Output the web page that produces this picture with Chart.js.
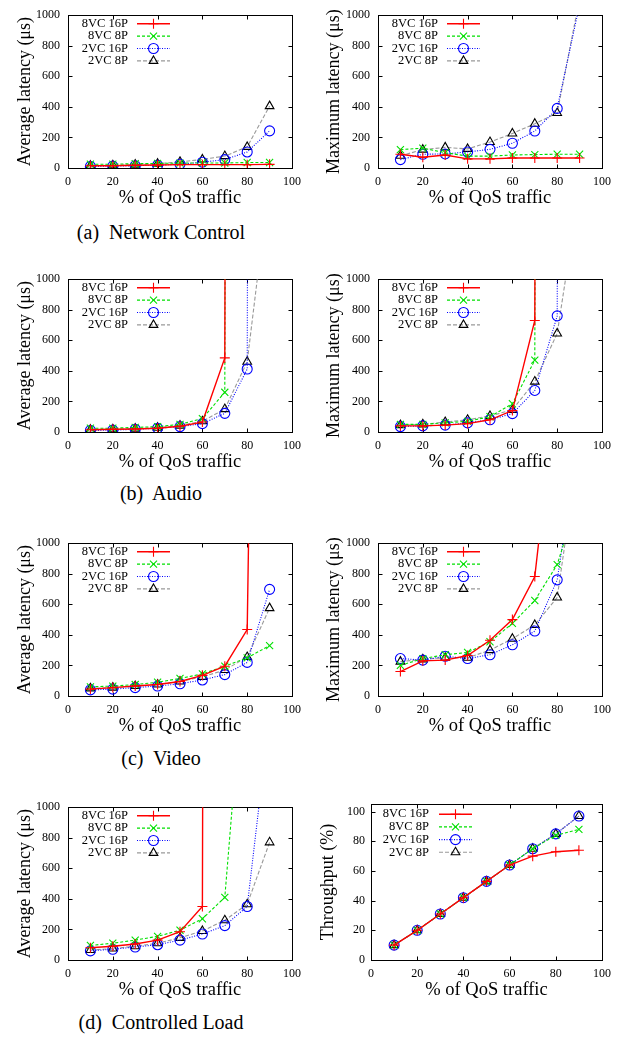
<!DOCTYPE html>
<html>
<head>
<meta charset="utf-8">
<script src="https://cdn.jsdelivr.net/npm/chart.js@4/dist/chart.umd.min.js"></script>
<style>
body { margin: 0; background: #fff; }
#page { position: relative; width: 622px; height: 1037px; font-family: "Liberation Serif", "Times New Roman", serif; color: #000; }
#page canvas { position: absolute; }
.cap { position: absolute; left: 0; width: 322px; text-align: center; font-size: 20px; line-height: 22px; white-space: pre; }
</style>
</head>
<body>
<div id="page">
  <canvas id="ncAvgChart" width="310" height="209" style="left:0;top:0"></canvas>
  <canvas id="ncMaxChart" width="312" height="209" style="left:310px;top:0"></canvas>
  <div class="cap" style="top:221px">(a)  Network Control</div>

  <canvas id="audioAvgChart" width="310" height="209" style="left:0;top:264px"></canvas>
  <canvas id="audioMaxChart" width="312" height="209" style="left:310px;top:264px"></canvas>
  <div class="cap" style="top:482px">(b)  Audio</div>

  <canvas id="videoAvgChart" width="310" height="209" style="left:0;top:528px"></canvas>
  <canvas id="videoMaxChart" width="312" height="209" style="left:310px;top:528px"></canvas>
  <div class="cap" style="top:747px">(c)  Video</div>

  <canvas id="clAvgChart" width="310" height="209" style="left:0;top:792px"></canvas>
  <canvas id="clThroughputChart" width="312" height="210" style="left:310px;top:791px"></canvas>
  <div class="cap" style="top:1011px">(d)  Controlled Load</div>
</div>

<script>
"use strict";

// 1: data (x = % of QoS traffic)
const qosTraffic = [10, 20, 30, 40, 50, 60, 70, 80, 90];
const seriesNames = ["8VC 16P", "8VC 8P", "2VC 16P", "2VC 8P"];
const latencyTicks = [0, 200, 400, 600, 800, 1000];
const throughputTicks = [0, 20, 40, 60, 80, 100];
const xTicks = [0, 20, 40, 60, 80, 100];

// rows follow seriesNames; values above 1000 run off the top of the plot
const ncAvg = [
	[15, 15, 18, 20, 22, 22, 22, 22, 24],
	[25, 25, 28, 30, 32, 33, 33, 36, 36],
	[10, 12, 15, 18, 25, 38, 55, 105, 243],
	[15, 18, 22, 28, 40, 56, 78, 138, 405]
];
const ncMax = [
	[90, 70, 85, 60, 60, 65, 65, 65, 65],
	[120, 130, 100, 78, 78, 85, 88, 90, 90],
	[55, 90, 92, 105, 122, 162, 242, 390, 1070],
	[80, 120, 135, 125, 170, 226, 290, 360, 1110]
];
const audioAvg = [
	[15, 18, 20, 25, 38, 65, 485, 60000, null],
	[25, 25, 30, 35, 50, 88, 260, 60000, null],
	[10, 12, 18, 25, 35, 55, 122, 412, 60000],
	[15, 18, 22, 28, 42, 70, 150, 460, 1660]
];
const audioMax = [
	[40, 40, 45, 55, 80, 140, 730, 60000, null],
	[50, 50, 60, 70, 100, 185, 470, 60000, null],
	[35, 40, 45, 60, 80, 120, 272, 760, 60000],
	[45, 50, 65, 80, 105, 145, 330, 645, 1600]
];
const videoAvg = [
	[45, 55, 65, 75, 95, 135, 195, 435, 10000],
	[60, 65, 75, 90, 115, 145, 195, 250, 330],
	[40, 45, 55, 65, 80, 105, 140, 220, 698],
	[50, 55, 65, 75, 95, 125, 170, 255, 575]
];
const videoMax = [
	[160, 230, 235, 265, 365, 500, 782, 2075, null],
	[200, 245, 270, 285, 355, 475, 625, 860, 1330],
	[245, 235, 260, 245, 270, 335, 425, 760, 1720],
	[225, 240, 250, 250, 300, 375, 465, 645, 1660]
];
const clAvg = [
	[80, 90, 105, 130, 185, 350, 60000, null, null],
	[95, 110, 130, 155, 195, 270, 410, 2200, null],
	[60, 70, 85, 100, 130, 170, 225, 350, 1600],
	[65, 75, 90, 110, 145, 190, 260, 365, 770]
];
const clThroughput = [
	[10, 20, 31, 42, 53, 64, 70, 73, 74],
	[10, 20, 31, 42, 53, 64, 75, 84, 88],
	[10, 20, 31, 42, 53, 64, 75, 85, 97],
	[10, 20, 31, 42, 53, 64, 75, 85, 97]
];

// 2: styles
const FONT = '"Liberation Serif", "Times New Roman", serif';
const seriesStyles = [
	{ borderColor: "#ff0000", borderWidth: 1.4, borderDash: [], pointStyle: "cross", pointBorderColor: "#ff0000" },
	{ borderColor: "#00e000", borderWidth: 1.1, borderDash: [3, 2], pointStyle: "crossRot", pointBorderColor: "#00e000" },
	{ borderColor: "#0000ff", borderWidth: 1.1, borderDash: [1, 1.5], pointStyle: "circle", pointBorderColor: "#0000ff" },
	{ borderColor: "#999999", borderWidth: 1.1, borderDash: [4, 2], pointStyle: "triangle", pointBorderColor: "#000000" }
];

// box with inward ticks on all four sides
const frame = {
	id: "frame",
	beforeDatasetsDraw(chart) {
		const { ctx, chartArea: a, scales: { x, y } } = chart;
		const l = Math.round(a.left) + 0.5, r = Math.round(a.right) + 0.5;
		const t = Math.round(a.top) + 0.5, b = Math.round(a.bottom) + 0.5;
		ctx.save();
		ctx.strokeStyle = "#000";
		ctx.lineWidth = 1;
		ctx.beginPath();
		for (const tk of x.ticks) {
			const px = Math.round(x.getPixelForValue(tk.value)) + 0.5;
			ctx.moveTo(px, b); ctx.lineTo(px, b - 4);
			ctx.moveTo(px, t); ctx.lineTo(px, t + 4);
		}
		for (const tk of y.ticks) {
			const py = Math.round(y.getPixelForValue(tk.value)) + 0.5;
			ctx.moveTo(l, py); ctx.lineTo(l + 4, py);
			ctx.moveTo(r, py); ctx.lineTo(r - 4, py);
		}
		ctx.stroke();
		ctx.strokeRect(l, t, r - l, b - t);
		ctx.restore();
	}
};

// gnuplot-like key: text right aligned, sample line with marker
const keyBox = {
	id: "keyBox",
	afterDatasetsDraw(chart, args, opts) {
		const { ctx, chartArea: a } = chart;
		ctx.save();
		ctx.font = "12.5px " + FONT;
		ctx.textAlign = "right";
		ctx.textBaseline = "middle";
		chart.data.datasets.forEach((ds, i) => {
			const yy = a.top + opts.top + i * opts.step;
			ctx.fillStyle = "#000";
			ctx.fillText(ds.label, a.left + opts.textRight, yy);
			ctx.strokeStyle = ds.borderColor;
			ctx.lineWidth = ds.borderWidth;
			ctx.setLineDash(ds.borderDash);
			ctx.beginPath();
			ctx.moveTo(a.left + opts.x0, yy);
			ctx.lineTo(a.left + opts.x1, yy);
			ctx.stroke();
			ctx.setLineDash([]);
			ctx.strokeStyle = ds.pointBorderColor;
			ctx.fillStyle = "rgba(0,0,0,0)";
			ctx.lineWidth = ds.pointBorderWidth;
			Chart.helpers.drawPoint(ctx, {
				pointStyle: ds.pointStyle, radius: ds.pointRadius,
				borderWidth: ds.pointBorderWidth, rotation: 0
			}, a.left + (opts.x0 + opts.x1) / 2, yy);
		});
		ctx.restore();
	}
};

// 3: create the charts
function makeChart(id, yTitle, values, opt) {
	const datasets = values.map((row, i) => ({
		label: seriesNames[i],
		data: qosTraffic.map((x, j) => ({ x: x, y: row[j] })).filter(p => p.y !== null),
		...seriesStyles[i],
		backgroundColor: "rgba(0,0,0,0)",
		pointBackgroundColor: "rgba(0,0,0,0)",
		pointRadius: 5,
		pointBorderWidth: 1.1,
		tension: 0,
		fill: false,
		clip: 0
	}));

	return new Chart(document.getElementById(id), {
		type: "line",
		data: { datasets: datasets },
		options: {
			responsive: false,
			animation: false,
			events: [],
			layout: { padding: { top: 9, right: opt.right, bottom: 0, left: 0 } },
			plugins: {
				legend: { display: false },
				tooltip: { enabled: false },
				keyBox: opt.key
			},
			scales: {
				x: {
					type: "linear",
					min: 0,
					max: 100,
					afterBuildTicks: s => { s.ticks = xTicks.map(v => ({ value: v })); },
					afterFit: s => { s.height = 41; },
					grid: { display: false, drawTicks: false },
					border: { display: false },
					ticks: { padding: 7, color: "#000", font: { family: FONT, size: 12 }, callback: v => String(v) },
					title: { display: true, text: "% of QoS traffic", color: "#000", padding: 0, font: { family: FONT, size: 18.5 } }
				},
				y: {
					type: "linear",
					min: 0,
					max: opt.yMax,
					afterBuildTicks: s => { s.ticks = opt.yTicks.map(v => ({ value: v })); },
					afterFit: s => { s.width = opt.axisWidth; },
					grid: { display: false, drawTicks: false },
					border: { display: false },
					ticks: { padding: opt.tickPad, color: "#000", font: { family: FONT, size: 12 }, callback: v => String(v) },
					title: { display: true, text: yTitle, color: "#000", padding: { top: opt.titlePad, bottom: 0 }, font: { family: FONT, size: 18 } }
				}
			}
		},
		plugins: [frame, keyBox]
	});
}

const latencyKey = { top: 8.5, step: 12.4, textRight: 60, x0: 69, x1: 102 };
const leftOpt = { right: 18, yMax: 1000, yTicks: latencyTicks, axisWidth: 68, tickPad: 8, titlePad: 14, key: latencyKey };
const rightOpt = { right: 20, yMax: 1000, yTicks: latencyTicks, axisWidth: 68, tickPad: 8, titlePad: 13.5, key: latencyKey };
const throughputOpt = {
	right: 20, yMax: 105, yTicks: throughputTicks, axisWidth: 61, tickPad: 6, titlePad: 7.5,
	key: { top: 10, step: 12.7, textRight: 58, x0: 68, x1: 101 }
};

makeChart("ncAvgChart", "Average latency (μs)", ncAvg, leftOpt);
makeChart("ncMaxChart", "Maximum latency (μs)", ncMax, rightOpt);
makeChart("audioAvgChart", "Average latency (μs)", audioAvg, leftOpt);
makeChart("audioMaxChart", "Maximum latency (μs)", audioMax, rightOpt);
makeChart("videoAvgChart", "Average latency (μs)", videoAvg, leftOpt);
makeChart("videoMaxChart", "Maximum latency (μs)", videoMax, rightOpt);
makeChart("clAvgChart", "Average latency (μs)", clAvg, leftOpt);
makeChart("clThroughputChart", "Throughput (%)", clThroughput, throughputOpt);
</script>
</body>
</html>
